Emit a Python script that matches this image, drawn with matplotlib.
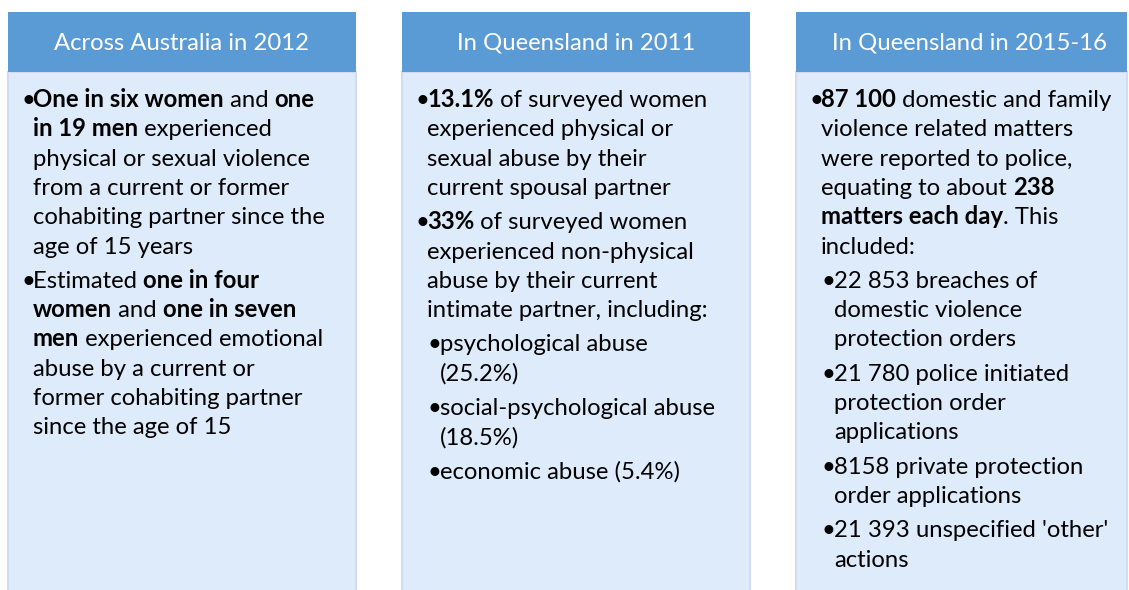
import matplotlib.pyplot as plt
from matplotlib.patches import Rectangle
from matplotlib.font_manager import FontProperties

# panel titles
titles = ["Across Australia in 2012", "In Queensland in 2011", "In Queensland in 2015-16"]

# paragraphs per panel: (level, lines), **...** marks bold runs
panel1 = [
    (0, ["**One in six women** and **one**",
         "**in 19 men** experienced",
         "physical or sexual violence",
         "from a current or former",
         "cohabiting partner since the",
         "age of 15 years"]),
    (0, ["Estimated **one in four**",
         "**women** and **one in seven**",
         "**men** experienced emotional",
         "abuse by a current or",
         "former cohabiting partner",
         "since the age of 15"]),
]
panel2 = [
    (0, ["**13.1%** of surveyed women",
         "experienced physical or",
         "sexual abuse by their",
         "current spousal partner"]),
    (0, ["**33%** of surveyed women",
         "experienced non-physical",
         "abuse by their current",
         "intimate partner, including:"]),
    (1, ["psychological abuse", "(25.2%)"]),
    (1, ["social-psychological abuse", "(18.5%)"]),
    (1, ["economic abuse (5.4%)"]),
]
panel3 = [
    (0, ["**87 100** domestic and family",
         "violence related matters",
         "were reported to police,",
         "equating to about **238**",
         "**matters each day**. This",
         "included:"]),
    (1, ["22 853 breaches of", "domestic violence", "protection orders"]),
    (1, ["21 780 police initiated", "protection order", "applications"]),
    (1, ["8158 private protection", "order applications"]),
    (1, ["21 393 unspecified 'other'", "actions"]),
]
panels = [panel1, panel2, panel3]

W, H = 1129, 590
FONT = "Lato"
SIZE = 17.2
HEAD = "#5B9BD5"
BODY = "#DEEBFB"
EDGE = "#D3DBF4"

fig = plt.figure(figsize=(W / 100, H / 100), dpi=100)
ax = fig.add_axes([0, 0, 1, 1])
ax.set_xlim(0, W)
ax.set_ylim(H, 0)
ax.axis("off")
renderer = fig.canvas.get_renderer()


def seg_width(s, bold):
    prop = FontProperties(family=FONT, size=SIZE, weight="bold" if bold else "normal")
    w1, _, _ = renderer.get_text_width_height_descent(s + "|", prop, ismath=False)
    w2, _, _ = renderer.get_text_width_height_descent("|", prop, ismath=False)
    return w1 - w2


def draw_line(x, y, line):
    parts = line.split("**")
    for i, part in enumerate(parts):
        if not part:
            continue
        bold = i % 2 == 1
        ax.text(x, y, part, family=FONT, size=SIZE, va="baseline", ha="left",
                fontweight="bold" if bold else "normal", color="black")
        x += seg_width(part, bold)


box_left = [8, 402, 796]
box_w = 348
for k, (title, paras) in enumerate(zip(titles, panels)):
    x0 = box_left[k]
    w = min(box_w, W - 2 - x0)
    ax.add_patch(Rectangle((x0, 72), w, 530, facecolor=BODY, edgecolor=EDGE, lw=1.5))
    ax.add_patch(Rectangle((x0, 12), w, 60, facecolor=HEAD, edgecolor="none"))
    ax.text(x0 + box_w / 2, 43, title, family=FONT, size=SIZE, color="white",
            ha="center", va="center")

    y = 107
    for j, (level, lines) in enumerate(paras):
        if j > 0:
            y += 5
        bx = x0 + (13 if level == 0 else 26)
        tx = x0 + (25 if level == 0 else 38)
        ax.text(bx, y, "\u2022", family=FONT, size=SIZE, va="baseline", ha="left")
        for line in lines:
            draw_line(tx, y, line)
            y += 29.3

fig.savefig("out.png", dpi=100)
